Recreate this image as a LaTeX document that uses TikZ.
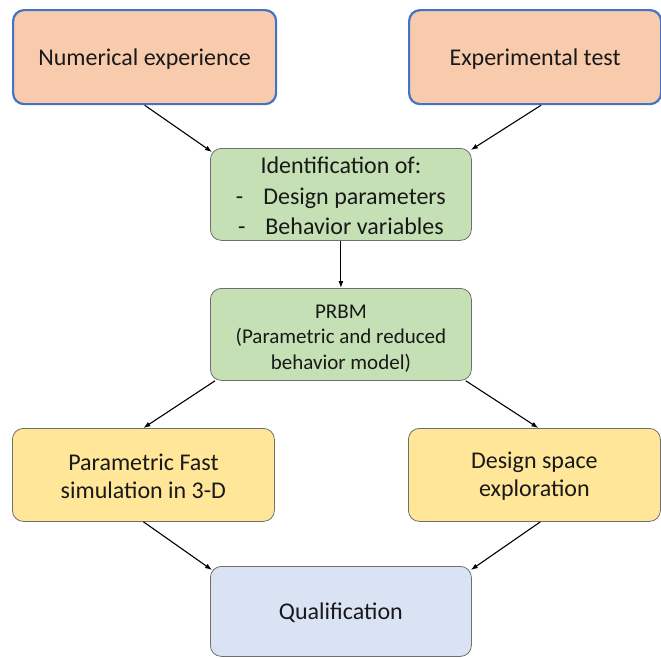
\documentclass[tikz,border=0pt]{standalone}
\usepackage{fontspec}
\setmainfont{Carlito}
\usetikzlibrary{arrows.meta}
\definecolor{orangefill}{HTML}{F8CBAD}
\definecolor{blueborder}{HTML}{4472C4}
\definecolor{greenfill}{HTML}{C5E0B4}
\definecolor{yellowfill}{HTML}{FFE699}
\definecolor{bluefill}{HTML}{DAE3F3}
\definecolor{grayborder}{HTML}{6F6F6F}
\tikzset{
  box/.style={rounded corners=11pt, anchor=north west, inner sep=0pt, align=center, text=black!90},
  srcbox/.style={box, fill=orangefill, draw=blueborder, line width=2.2pt, font=\fontsize{24}{28}\selectfont},
  greenbox/.style={box, fill=greenfill, draw=grayborder, line width=0.8pt},
  yellowbox/.style={box, fill=yellowfill, draw=grayborder, line width=0.8pt, font=\fontsize{24}{28}\selectfont},
  qualbox/.style={box, fill=bluefill, draw=grayborder, line width=0.8pt, font=\fontsize{24}{28}\selectfont},
  conn/.style={-{Latex[length=7pt,width=5pt]}, line width=1.1pt, black}
}
\begin{document}
\begin{tikzpicture}[x=1pt,y=-1pt]
\useasboundingbox (0,0) rectangle (661,657);
\node[srcbox, minimum width=263pt, minimum height=94pt] (num) at (12,9) {\rule{0pt}{20pt}Numerical experience};
\node[srcbox, minimum width=252pt, minimum height=94pt] (exp) at (408,9) {\rule{0pt}{20pt}Experimental test};
\node[greenbox, minimum width=261pt, minimum height=92pt, font=\fontsize{24}{30.5}\selectfont] (ident) at (210,148)
  {\rule{0pt}{20pt}Identification of:\\-\hspace{20pt}Design parameters\\-\hspace{20pt}Behavior variables};
\node[greenbox, minimum width=261pt, minimum height=92pt, font=\fontsize{21}{25.5}\selectfont] (prbm) at (210,288)
  {\rule{0pt}{22pt}PRBM\\(Parametric and reduced\\behavior model)};
\node[yellowbox, minimum width=262pt, minimum height=93pt] (par) at (12,428) {\rule{0pt}{20pt}Parametric Fast\\simulation in 3-D};
\node[yellowbox, minimum width=252pt, minimum height=93pt] (dse) at (408,428) {\rule{0pt}{20pt}Design space\\exploration};
\node[qualbox, minimum width=261pt, minimum height=90pt] (qual) at (210,566) {\rule{0pt}{20pt}Qualification};
\draw[conn] (num.south) -- ([shift={(2,4)}]ident.north west);
\draw[conn] ([shift={(6,0)}]exp.south) -- ([shift={(-1,2)}]ident.north east);
\draw[conn] (ident.south) -- (prbm.north);
\draw[conn] ([shift={(5,0)}]prbm.south west) -- (par.north);
\draw[conn] ([shift={(-6,0)}]prbm.south east) -- ([shift={(4,0)}]dse.north);
\draw[conn] (par.south) -- ([shift={(2,4)}]qual.north west);
\draw[conn] ([shift={(6,0)}]dse.south) -- ([shift={(-1,4)}]qual.north east);
\end{tikzpicture}
\end{document}
